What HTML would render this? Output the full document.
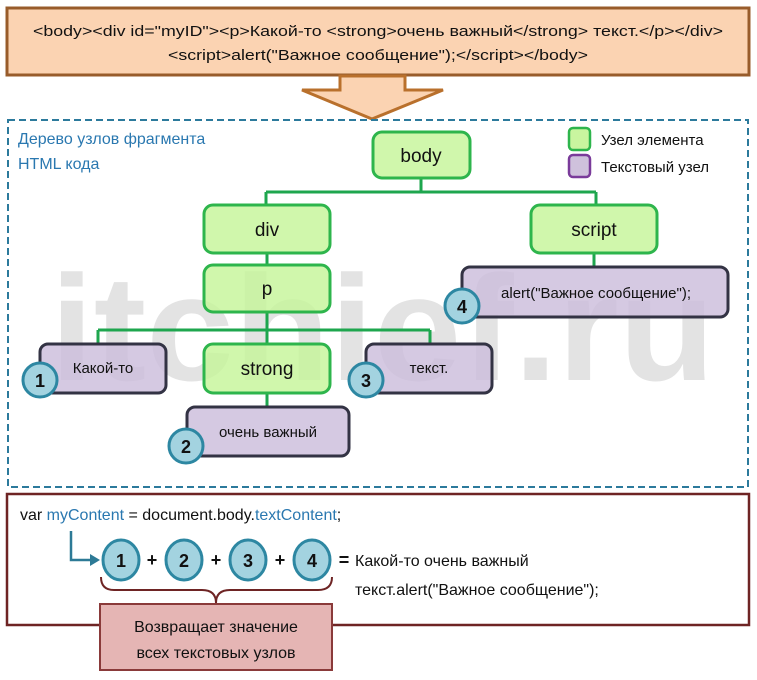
<!DOCTYPE html>
<html><head><meta charset="utf-8"><style>
html,body{margin:0;padding:0;background:#fff}
svg{display:block}
text{font-family:"Liberation Sans",sans-serif}
</style></head><body>
<svg width="757" height="680" viewBox="0 0 757 680" xmlns="http://www.w3.org/2000/svg">
<rect x="7" y="8" width="742" height="67" fill="#fbd3b2" stroke="#985c2b" stroke-width="3"/>
<text x="378" y="36" font-size="15" text-anchor="middle" fill="#111" textLength="690" lengthAdjust="spacingAndGlyphs">&lt;body&gt;&lt;div id="myID"&gt;&lt;p&gt;Какой-то &lt;strong&gt;очень важный&lt;/strong&gt; текст.&lt;/p&gt;&lt;/div&gt;</text>
<text x="378" y="60" font-size="15" text-anchor="middle" fill="#111" textLength="420" lengthAdjust="spacingAndGlyphs">&lt;script&gt;alert("Важное сообщение");&lt;/script&gt;&lt;/body&gt;</text>
<polygon points="340,76 405,76 405,90 443,90 372,119 302,90 340,90" fill="#fbd3b2" stroke="#b9702c" stroke-width="3" stroke-linejoin="miter"/>
<rect x="8" y="120" width="740" height="367" fill="none" stroke="#2c7a9c" stroke-width="2" stroke-dasharray="7,4"/>
<text x="50" y="380" font-size="150" font-weight="bold" fill="#e3e3e3" textLength="665" lengthAdjust="spacingAndGlyphs">itchief.ru</text>
<text x="18" y="144" font-size="16" fill="#2a78b0">Дерево узлов фрагмента</text>
<text x="18" y="169" font-size="16" fill="#2a78b0">HTML кода</text>
<rect x="569" y="128" width="21" height="22" rx="4" fill="#c9f59f" stroke="#2eb54c" stroke-width="2.5"/>
<text x="601" y="145" font-size="15" fill="#111">Узел элемента</text>
<rect x="569" y="155" width="21" height="22" rx="4" fill="#cfc1dc" stroke="#7a3b9a" stroke-width="2.5"/>
<text x="601" y="172" font-size="15" fill="#111">Текстовый узел</text>
<g stroke="#1ea64e" stroke-width="3" fill="none">
<path d="M421,178 V192 M266,192 H596 M266,192 V205 M596,192 V205"/>
<path d="M267,253 V265"/>
<path d="M267,312 V344 M98,330 H430 M98,330 V344 M430,330 V344"/>
<path d="M267,393 V407"/>
<path d="M594,253 V267"/>
</g>
<g fill="#c4f597" fill-opacity="0.8" stroke="#2eb54c" stroke-width="3">
<rect x="373" y="132" width="97" height="46" rx="9"/>
<rect x="204" y="205" width="126" height="48" rx="9"/>
<rect x="531" y="205" width="126" height="48" rx="9"/>
<rect x="204" y="265" width="126" height="47" rx="9"/>
<rect x="204" y="344" width="126" height="49" rx="9"/>
</g>
<g font-size="19" text-anchor="middle" fill="#111">
<text x="421" y="162">body</text>
<text x="267" y="236">div</text>
<text x="594" y="236">script</text>
<text x="267" y="295">p</text>
<text x="267" y="375">strong</text>
</g>
<g fill="#cbbcdb" fill-opacity="0.8" stroke="#333344" stroke-width="3">
<rect x="40" y="344" width="126" height="49" rx="8"/>
<rect x="366" y="344" width="126" height="49" rx="8"/>
<rect x="187" y="407" width="162" height="49" rx="8"/>
<rect x="462" y="267" width="266" height="50" rx="8"/>
</g>
<g font-size="15" fill="#111" text-anchor="middle">
<text x="103" y="373">Какой-то</text>
<text x="429" y="373">текст.</text>
<text x="268" y="437">очень важный</text>
<text x="596" y="298">alert("Важное сообщение");</text>
</g>
<g fill="#a3d3e0" stroke="#2d87a2" stroke-width="3">
<circle cx="40" cy="380" r="17"/>
<circle cx="186" cy="446" r="17"/>
<circle cx="366" cy="380" r="17"/>
<circle cx="462" cy="306" r="17"/>
</g>
<g font-size="18" font-weight="bold" text-anchor="middle" fill="#111">
<text x="40" y="387">1</text>
<text x="186" y="453">2</text>
<text x="366" y="387">3</text>
<text x="462" y="313">4</text>
</g>
<rect x="7" y="494" width="742" height="131" fill="#fff" stroke="#6e2424" stroke-width="2.5"/>
<text x="20" y="520" font-size="16" fill="#111">var <tspan fill="#2a78b0">myContent</tspan> = document.body.<tspan fill="#2a78b0">textContent</tspan>;</text>
<path d="M71,531 V560 H92" fill="none" stroke="#2d7a96" stroke-width="2.5"/>
<polygon points="100,560 90,554 90,566" fill="#2d7a96"/>
<g fill="#a3d3e0" stroke="#2d87a2" stroke-width="3">
<ellipse cx="121" cy="560" rx="18" ry="20"/>
<ellipse cx="184" cy="560" rx="18" ry="20"/>
<ellipse cx="248" cy="560" rx="18" ry="20"/>
<ellipse cx="312" cy="560" rx="18" ry="20"/>
</g>
<g font-size="18" font-weight="bold" text-anchor="middle" fill="#111">
<text x="121" y="567">1</text>
<text x="184" y="567">2</text>
<text x="248" y="567">3</text>
<text x="312" y="567">4</text>
<text x="152" y="566">+</text>
<text x="216" y="566">+</text>
<text x="280" y="566">+</text>
<text x="344" y="566">=</text>
</g>
<text x="355" y="566" font-size="16" fill="#111">Какой-то очень важный</text>
<text x="355" y="595" font-size="16" fill="#111">текст.alert("Важное сообщение");</text>
<path d="M101,577 Q101,590 114,590 H202 Q216,590 216,603 Q216,590 230,590 H318 Q332,590 332,577" fill="none" stroke="#6e2424" stroke-width="2"/>
<rect x="100" y="604" width="232" height="66" fill="#e5b5b4" stroke="#8a3a3a" stroke-width="2"/>
<text x="216" y="632" font-size="16" text-anchor="middle" fill="#111">Возвращает значение</text>
<text x="216" y="658" font-size="16" text-anchor="middle" fill="#111">всех текстовых узлов</text>
</svg>
</body></html>
